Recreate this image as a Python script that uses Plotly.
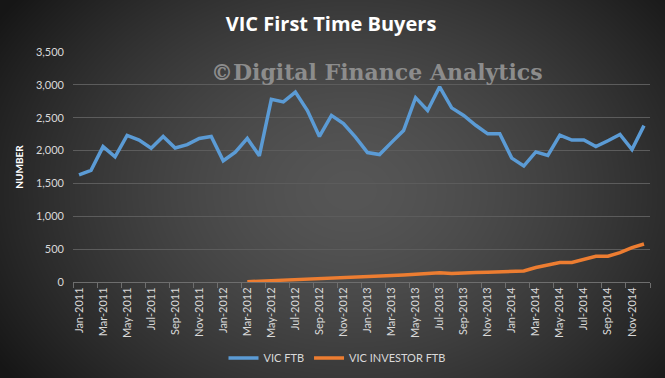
import base64
import struct
import zlib

import numpy as np
import plotly.graph_objects as go

months = ["Jan", "Feb", "Mar", "Apr", "May", "Jun", "Jul", "Aug", "Sep", "Oct", "Nov", "Dec"]
years = [2011, 2012, 2013, 2014]
categories = [f"{m}-{y}" for y in years for m in months]

vic_ftb = [1630, 1700, 2060, 1905, 2230, 2160, 2035, 2215, 2040, 2090, 2185, 2215,
           1845, 1975, 2185, 1920, 2780, 2740, 2890, 2610, 2215, 2535, 2410, 2205,
           1970, 1940, 2125, 2305, 2805, 2610, 2970, 2650, 2535, 2385, 2255, 2255,
           1885, 1765, 1980, 1925, 2235, 2160, 2160, 2060, 2150, 2245, 2015, 2380]

vic_investor_ftb = [None] * 14 + [5, 12, 20, 32, 38, 45, 52, 60, 66, 72,
                    82, 90, 100, 108, 117, 125, 142, 128, 140, 145, 150, 152,
                    158, 168, 220, 262, 295, 296, 338, 390, 392, 448, 522, 578]

x_idx = list(range(len(categories)))
label_idx = x_idx[::2]
label_text = categories[::2]


# radial-gradient background (styling only)
def gradient_png(w, h):
    yy, xx = np.mgrid[0:h, 0:w].astype(float)
    d = np.sqrt(((xx - 350) / 420) ** 2 + ((yy - 190) / 320) ** 2)
    v = np.clip(86 - 64 * d ** 1.5, 22, 90).astype(np.uint8)
    raw = b"".join(b"\x00" + v[r].tobytes() for r in range(h))
    def chunk(tag, data):
        c = struct.pack(">I", len(data)) + tag + data
        return c + struct.pack(">I", zlib.crc32(tag + data) & 0xFFFFFFFF)
    png = b"\x89PNG\r\n\x1a\n"
    png += chunk(b"IHDR", struct.pack(">IIBBBBB", w, h, 8, 0, 0, 0, 0))
    png += chunk(b"IDAT", zlib.compress(raw, 9))
    png += chunk(b"IEND", b"")
    return "data:image/png;base64," + base64.b64encode(png).decode()


W, H = 665, 378
L, R, T, B = 73, 15, 52, 96
pw, ph = W - L - R, H - T - B

fig = go.Figure()
fig.add_trace(go.Scatter(x=x_idx, y=vic_ftb, mode="lines", name="VIC FTB",
                         line=dict(color="#5b9bd5", width=3.5)))
fig.add_trace(go.Scatter(x=x_idx, y=vic_investor_ftb, mode="lines", name="VIC INVESTOR FTB",
                         line=dict(color="#ed7d31", width=3.5)))

fig.update_layout(
    width=W, height=H,
    margin=dict(l=L, r=R, t=T, b=B, autoexpand=False),
    paper_bgcolor="#383838",
    plot_bgcolor="rgba(0,0,0,0)",
    font=dict(family="Lato", color="#d9d9d9", size=11),
    title=dict(text="<b>VIC First Time Buyers</b>", x=331 / W, xanchor="center", xref="container",
               y=1 - 24 / H, yanchor="middle", yref="container",
               font=dict(family="Open Sans", size=20, color="#ffffff")),
    showlegend=True,
    legend=dict(orientation="h", x=337 / W, xanchor="center", xref="container",
                y=1 - 358 / H, yanchor="middle", yref="container",
                font=dict(size=11, color="#d9d9d9"), bgcolor="rgba(0,0,0,0)",
                itemwidth=30),
    xaxis=dict(range=[-0.5, 47.5], tickmode="array", tickvals=label_idx, ticktext=label_text,
               tickangle=-90, showgrid=False, zeroline=False, ticks="", automargin=False,
               showline=True, linecolor="#6e6e6e", linewidth=1,
               tickfont=dict(size=11, color="#d9d9d9"),
               minor=dict(tickmode="array", tickvals=[i - 0.5 for i in range(0, 49, 2)],
                          ticks="outside", ticklen=5, tickcolor="#6e6e6e", showgrid=False)),
    yaxis=dict(range=[0, 3500], tickvals=[0, 500, 1000, 1500, 2000, 2500, 3000, 3500],
               tickformat=",", showgrid=True, gridcolor="#5c5c5c", gridwidth=1,
               zeroline=False, showline=False, ticklabelstandoff=8, automargin=False,
               tickfont=dict(size=11, color="#d9d9d9"),
               title=dict(text="<b>NUMBER</b>", font=dict(size=10, color="#ffffff"), standoff=10)),
    images=[dict(source=gradient_png(W, H), xref="paper", yref="paper",
                 x=-L / pw, y=1 + T / ph, sizex=W / pw, sizey=H / ph,
                 xanchor="left", yanchor="top", sizing="stretch", layer="below")],
)

fig.add_annotation(text="<b>©Digital Finance Analytics</b>", xref="paper", yref="paper",
                   x=(377 - L) / pw, y=(H - B - 72) / ph, xanchor="center", yanchor="middle",
                   showarrow=False,
                   font=dict(family="DejaVu Serif", size=22, color="#8c8c8c"))

fig.write_html("out.html", config={"displayModeBar": False},
               post_script="document.body.style.margin='0';document.body.style.padding='0';")
